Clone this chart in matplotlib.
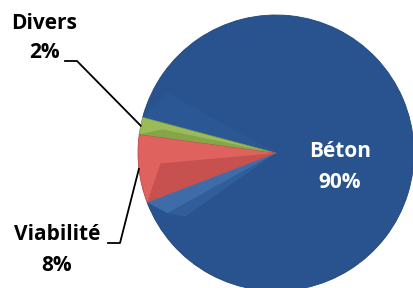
import numpy as np
import matplotlib
matplotlib.use("Agg")
import matplotlib.pyplot as plt
from matplotlib.patches import Polygon

# data
labels = ["Béton", "Divers", "Viabilité"]
shares = [90, 2, 8]
colors = ["#29538F", "#9BBB59", "#E0625F"]

plt.rcParams['font.family'] = ['Open Sans', 'DejaVu Sans']

fig = plt.figure(figsize=(4.14, 2.88), dpi=100)
ax = fig.add_axes([0, 0, 1, 1])

cx, cy, r = 276, 135, 138
start = 201
wedges, _ = ax.pie(shares, colors=colors, startangle=start, counterclock=True,
                   center=(cx, cy), radius=r, frame=True,
                   wedgeprops=dict(edgecolor="#1F4579", linewidth=0.6))
wedges[1].set_edgecolor("#7E9C45")
wedges[2].set_edgecolor("#B04A47")
ax.set_xlim(0, 414)
ax.set_ylim(0, 288)
ax.axis('off')


def pt(ang, rad):
    a = np.deg2rad(ang)
    return cx + rad * np.cos(a), cy + rad * np.sin(a)


z = wedges[0].zorder + 0.5
# bevel-ish facets: darker lower triangle in the small slices
for w, c in zip(wedges[1:], ["#86A448", "#C6514E"]):
    span = w.theta2 - w.theta1
    poly = Polygon([(cx, cy), pt(w.theta1 + span * 0.45, r * 0.84), pt(w.theta2, r)],
                   closed=True, facecolor=c, edgecolor='none', zorder=z)
    ax.add_patch(poly)

# lighter band on the blue next to the red slice
t = wedges[0].theta1
ax.add_patch(Polygon([(cx, cy), pt(t, r), pt(t + 8, r * 0.9)], closed=True,
                     facecolor="#4677B5", edgecolor='none', alpha=0.7, zorder=z))
ax.add_patch(Polygon([(cx, cy), pt(t + 8, r * 0.9), pt(t + 14, r * 0.8)], closed=True,
                     facecolor="#3A68A6", edgecolor='none', alpha=0.5, zorder=z))
# faint lighter facet above the green slice
t = wedges[0].theta2
ax.add_patch(Polygon([(cx, cy), pt(t, r), pt(t - 14, r * 0.9)], closed=True,
                     facecolor="#3060A0", edgecolor='none', alpha=0.35, zorder=z))

# Béton label inside
ax.text(340, 288 - 167, "Béton\n90%", color="white", fontsize=15, fontweight="bold",
        ha="center", va="center", linespacing=1.6)

# Divers label with leader
ax.text(44, 288 - 38, "Divers\n2%", color="black", fontsize=15, fontweight="bold",
        ha="center", va="center", linespacing=1.55)
ex, ey = pt(wedges[1].theta1 + (wedges[1].theta2 - wedges[1].theta1) / 2, r)
ax.plot([65, 77, ex], [288 - 61, 288 - 61, ey], color="black", lw=1.3)

# Viabilité label with leader
ax.text(57, 288 - 250, "Viabilité\n8%", color="black", fontsize=15, fontweight="bold",
        ha="center", va="center", linespacing=1.6)
ex, ey = pt(wedges[2].theta1 + (wedges[2].theta2 - wedges[2].theta1) / 2, r)
ax.plot([108, 120, ex], [288 - 243, 288 - 243, ey], color="black", lw=1.3)

fig.savefig("out.png", dpi=100)
